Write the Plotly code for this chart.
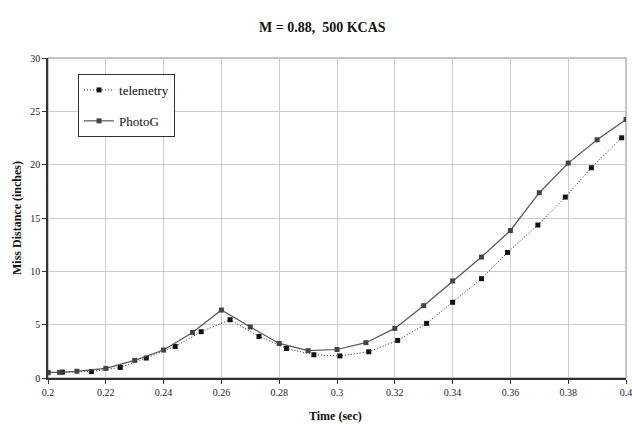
import plotly.graph_objects as go

photog_t = [0.2, 0.204, 0.21, 0.22, 0.23, 0.24, 0.25, 0.26, 0.27, 0.28, 0.29, 0.30,
            0.31, 0.32, 0.33, 0.34, 0.35, 0.36, 0.37, 0.38, 0.39, 0.40]
photog_y = [0.52, 0.53, 0.63, 0.9, 1.65, 2.62, 4.27, 6.37, 4.78, 3.24, 2.56, 2.67,
            3.31, 4.65, 6.78, 9.1, 11.34, 13.83, 17.37, 20.15, 22.33, 24.24]

telem_t = [0.2, 0.205, 0.215, 0.225, 0.234, 0.244, 0.253, 0.263, 0.273, 0.2825, 0.292,
           0.301, 0.311, 0.321, 0.331, 0.340, 0.350, 0.359, 0.3695, 0.379, 0.388, 0.3985]
telem_y = [0.5, 0.55, 0.6, 0.99, 1.87, 2.96, 4.34, 5.46, 3.9, 2.77, 2.18,
           2.07, 2.46, 3.52, 5.12, 7.1, 9.31, 11.77, 14.34, 16.96, 19.71, 22.52]

x_ticks = [0.2, 0.22, 0.24, 0.26, 0.28, 0.3, 0.32, 0.34, 0.36, 0.38, 0.4]
x_tick_labels = ["0.2", "0.22", "0.24", "0.26", "0.28", "0.3", "0.32", "0.34", "0.36", "0.38", "0.4"]
y_ticks = [0, 5, 10, 15, 20, 25, 30]

FONT = "Liberation Serif, Times New Roman, serif"

fig = go.Figure()
fig.add_trace(go.Scatter(
    x=telem_t, y=telem_y, name="telemetry", mode="lines+markers",
    line=dict(color="#222222", width=1, dash="1px,2px"),
    marker=dict(symbol="square", size=5, color="#111111"),
    legendgroup="a",
))
fig.add_trace(go.Scatter(
    x=photog_t, y=photog_y, name="PhotoG", mode="lines+markers",
    line=dict(color="#555555", width=1.2),
    marker=dict(symbol="square", size=5, color="#444444"),
    legendgroup="b",
))

fig.update_layout(
    width=632, height=424,
    margin=dict(l=48, r=6, t=58, b=46, autoexpand=False),
    paper_bgcolor="white", plot_bgcolor="white",
    font=dict(family=FONT, size=10, color="#222222"),
    title=dict(text="<b>M = 0.88,  500 KCAS</b>", x=0.51, xref="container", xanchor="center",
               y=0.936, yref="container", yanchor="middle", font=dict(size=14, family=FONT, color="#111111")),
    showlegend=True,
    legend=dict(x=0.052, y=0.95, xanchor="left", yanchor="top",
                bordercolor="#333333", borderwidth=1, bgcolor="white",
                font=dict(size=13, family=FONT, color="#111111"),
                traceorder="grouped", tracegroupgap=11, itemwidth=30),
    annotations=[
        dict(text="<b>Time (sec)</b>", xref="paper", yref="paper", x=0.497, y=-0.119,
             xanchor="center", yanchor="middle", showarrow=False,
             font=dict(size=12, family=FONT, color="#111111")),
        dict(text="<b>Miss Distance (inches)</b>", xref="paper", yref="paper", x=-0.0536, y=0.5,
             xanchor="center", yanchor="middle", showarrow=False, textangle=-90,
             font=dict(size=12, family=FONT, color="#111111")),
    ],
)
fig.update_xaxes(
    range=[0.2, 0.4], tickvals=x_ticks, ticktext=x_tick_labels,
    showgrid=True, gridcolor="#cccccc", gridwidth=1,
    showline=True, linecolor="#333333", linewidth=1.5,
    ticks="outside", ticklen=4, tickcolor="#333333",
    zeroline=False, automargin=False, ticklabeloverflow="allow",
)
fig.update_yaxes(
    range=[0, 30], tickvals=y_ticks,
    showgrid=True, gridcolor="#cccccc", gridwidth=1,
    showline=True, linecolor="#333333", linewidth=1.5,
    ticks="outside", ticklen=4, tickcolor="#333333",
    zeroline=False, automargin=False, ticklabeloverflow="allow",
)
fig.add_shape(type="rect", xref="paper", yref="paper", x0=0, y0=0, x1=1, y1=1,
              line=dict(color="#888888", width=1), layer="below")

fig.write_html("out.html", config={"displayModeBar": False},
               post_script="document.body.style.margin='0';document.body.style.overflow='hidden';")
